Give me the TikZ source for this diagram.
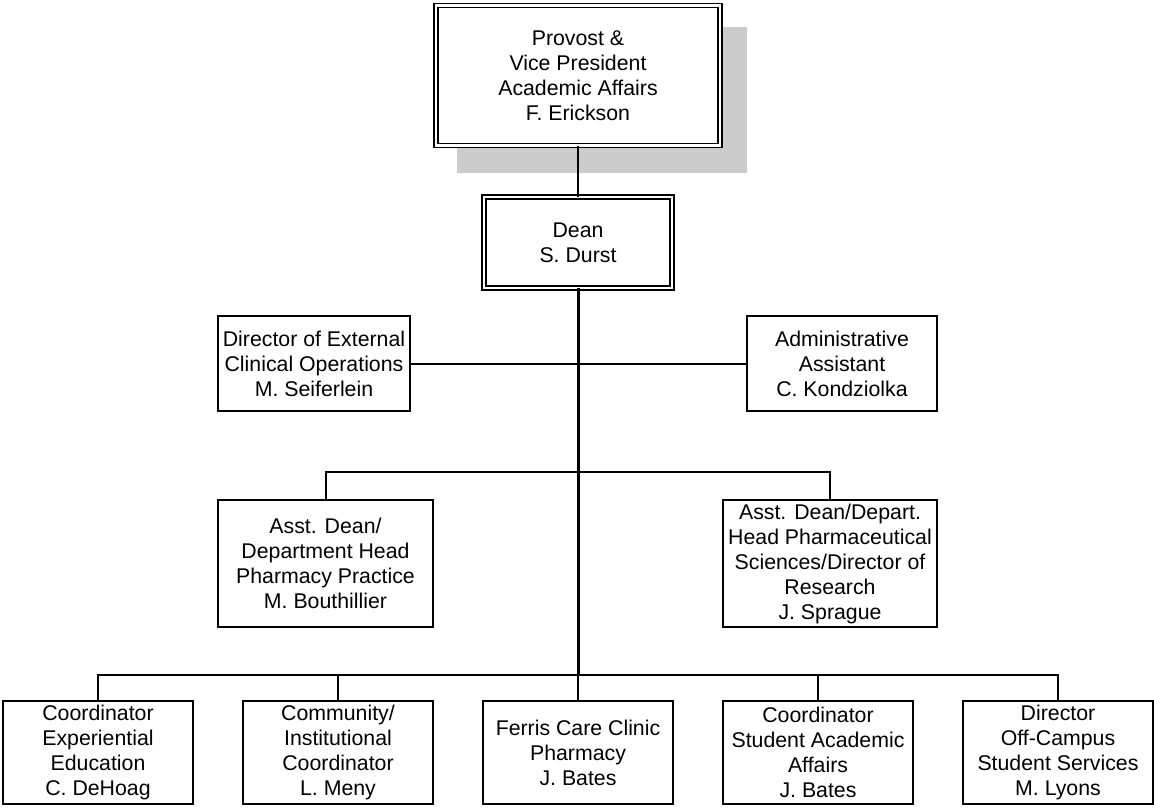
\documentclass[tikz,border=0pt]{standalone}
\usepackage{fontspec}
\setmainfont{Liberation Sans}
\usetikzlibrary{backgrounds}
\definecolor{shadowgray}{RGB}{204,204,204}

\begin{document}
\begin{tikzpicture}[x=1pt,y=-1pt,
  font=\fontsize{21.3}{25}\selectfont,
  unit/.style={draw,line width=1.8pt,fill=white,align=center,inner sep=0pt,outer sep=0pt},
  head/.style={unit,line width=1.5pt,double,double distance=2.5pt},
  link/.style={line width=2pt},
  trunk/.style={line width=3pt}]
\useasboundingbox (0,0) rectangle (1154,809);
\node[head,minimum width=284pt,minimum height=140pt] (provost) at (578,75.5)
  {Provost \&\\Vice President\\Academic Affairs\\F. Erickson};
\node[head,minimum width=188pt,minimum height=91pt] (dean) at (578,242.5)
  {Dean\\S. Durst};
\begin{scope}[on background layer]
\fill[shadowgray] ([shift={(21,21.5)}]provost.north west) rectangle ([shift={(27,27.5)}]provost.south east);
\end{scope}

\node[unit,minimum width=192pt,minimum height=95pt] (extops) at (314,363.5)
  {Director of External\\Clinical Operations\\M. Seiferlein};
\node[unit,minimum width=190pt,minimum height=95pt] (admin) at (842,363.5)
  {Administrative\\Assistant\\C. Kondziolka};

\node[unit,minimum width=215pt,minimum height=127pt] (practice) at (325.5,563.5)
  {Asst. Dean/\\Department Head\\Pharmacy Practice\\M. Bouthillier};
\node[unit,minimum width=214pt,minimum height=127pt] (sciences) at (830,563.5)
  {Asst. Dean/Depart.\\Head Pharmaceutical\\Sciences/Director of\\Research\\J. Sprague};

\node[unit,minimum width=190pt,minimum height=103pt] (dehoag) at (98,752.5)
  {Coordinator\\Experiential\\Education\\C. DeHoag};
\node[unit,minimum width=190pt,minimum height=103pt] (meny) at (338,752.5)
  {Community/\\Institutional\\Coordinator\\L. Meny};
\node[unit,minimum width=190pt,minimum height=103pt] (ferris) at (578,752.5)
  {Ferris Care Clinic\\Pharmacy\\J. Bates};
\node[unit,minimum width=190pt,minimum height=103pt] (bates) at (818,752.5)
  {Coordinator\\Student Academic\\Affairs\\J. Bates};
\node[unit,minimum width=190pt,minimum height=103pt] (lyons) at (1058,752.5)
  {Director\\Off-Campus\\Student Services\\M. Lyons};

\coordinate (mid) at (578,472);
\coordinate (low) at (578,675);

\draw[link] (provost.south) -- (dean.north);
\draw[link] (extops.east) -- (admin.west);
\draw[link] (practice.north) |- (mid) -| (sciences.north);
\draw[link] (dehoag.north) |- (low) -| (lyons.north);
\draw[link] (meny.north) -- (meny.north |- low);
\draw[link] (bates.north) -- (bates.north |- low);
\draw[link] (low) -- (ferris.north);
\draw[trunk] (dean.south) -- (low);
\end{tikzpicture}
\end{document}
